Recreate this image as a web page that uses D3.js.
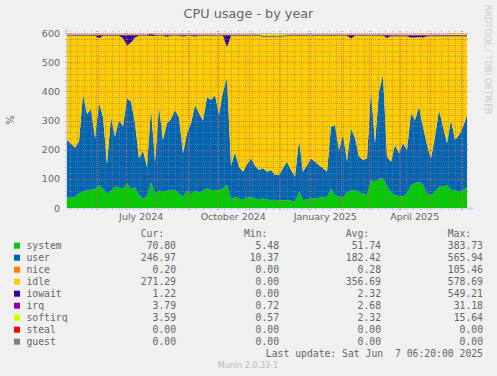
<!DOCTYPE html>
<html>
<head>
<meta charset="utf-8">
<script src="https://cdn.jsdelivr.net/npm/d3@7"></script>
<style>
  body { margin: 0; background: #f0f0f0; }
  svg text { font-family: "DejaVu Sans", sans-serif; fill: #666; }
  .mono { font-family: "DejaVu Sans Mono", monospace; white-space: pre; }
</style>
</head>
<body>
<script>
// one sample every 4 days, from 3 May 2024 to 7 Jun 2025
const system = [35,35,38,50,56,63,63,66,78,65, 50,58,75,70,65,85,65,70,45,33,
    40,88,51,60,55,60,63,62,50,39, 60,48,60,52,60,67,62,62,62,68,
    79,30,38,32,30,35,38,33,30,33, 30,27,28,27,27,27,25,22,56,27,
    30,33,33,35,37,39,67,45,40,35, 55,60,62,55,50,45,96,90,100,102,
    75,55,45,40,40,50,79,85,90,80, 50,45,55,73,73,79,63,62,55,62, 70.8];
const user = [198,185,169,178,334,259,276,174,282,247, 100,255,169,232,215,291,299,221,125,163,
    100,254,108,287,178,231,242,274,260,149, 197,242,293,273,240,313,308,325,258,332,
    366,115,152,109,94,115,132,112,100,103, 94,103,85,86,109,132,105,85,177,97,
    117,137,126,112,99,85,212,239,159,215, 105,213,178,121,115,125,309,132,299,354,
    101,104,171,148,182,149,246,217,257,199, 166,125,189,263,206,143,239,171,195,217, 246.97];
const nice = [0.3,0.3,0.3,0.3,0.3,0.3,0.3,0.3,0.3,0.3, 0.3,0.3,0.3,0.3,0.3,0.3,0.3,0.3,0.3,0.3,
    0.3,0.3,0.3,0.3,0.3,0.3,0.3,0.3,0.3,0.3, 0.3,0.3,0.3,0.3,0.3,0.3,0.3,0.3,0.3,0.3,
    0.3,0.3,0.3,0.3,0.3,0.3,0.3,0.3,0.3,0.3, 0.3,0.3,0.3,0.3,0.3,0.3,0.3,0.3,0.3,0.3,
    0.3,0.3,0.3,0.3,0.3,0.3,0.3,0.3,0.3,0.3, 0.3,0.3,0.3,0.3,0.3,0.3,0.3,0.3,0.3,0.3,
    0.3,0.3,0.3,0.3,0.3,0.3,0.3,0.3,0.3,0.3, 0.3,0.3,0.3,0.3,0.3,0.3,0.2,0.2,0.2,0.2, 0.2];
const idle = [357.5,370.5,383.5,362.5,200.5,268.5,251.5,350.5,222,278.5,
    440.5,277.5,346.5,288.5,302,181,203,293,420.5,394.5,
    450.5,248.5,430,243.5,357.5,296,285.5,254.5,280.5,400,
    333.5,300.5,235,265.5,290.5,210.5,220.5,203.5,270.5,190.5,
    107,445.5,400.5,449.5,466.5,440.5,420.5,445.5,460.5,451.5,
    463.5,457.5,474.5,474.5,451.5,431.5,460.5,483.5,357.5,466.5,
    443.5,420.5,431.5,443.5,454.5,466.5,311.5,306.5,391.5,340.5,
    430.5,308,350.5,414.5,425.5,420.5,185.5,368.5,191.5,134.5,
    407,429.5,372.5,400.5,366.5,389.5,259,282,239,305,
    372.5,418.5,344.5,252.5,309.5,366.5,286.5,355.5,338.5,309.5, 271.29];
const iowait = [1.5,1.5,1.5,1.5,1.5,1.5,1.5,1.5,10,1.5, 1.5,1.5,1.5,1.5,10,35,25,8,1.5,1.5,
    1.5,4,3,1.5,1.5,5,1.5,1.5,1.5,4, 1.5,1.5,4,1.5,1.5,1.5,1.5,1.5,1.5,1.5,
    40,1.5,1.5,1.5,1.5,1.5,1.5,1.5,1.5,1.5, 1.5,1.5,1.5,1.5,1.5,1.5,1.5,1.5,1.5,1.5,
    1.5,1.5,1.5,1.5,1.5,1.5,1.5,1.5,1.5,1.5, 1.5,11,1.5,1.5,1.5,1.5,1.5,1.5,1.5,1.5,
    9,1.5,1.5,1.5,1.5,1.5,6,6,4,6, 1.5,1.5,1.5,1.5,1.5,1.5,2,2,2,2, 1.22];
const irq = [2.4,2.4,2.4,2.4,2.4,2.4,2.4,2.4,2.4,2.4, 2.4,2.4,2.4,2.4,2.4,2.4,2.4,2.4,2.4,2.4,
    2.4,2.4,2.4,2.4,2.4,2.4,2.4,2.4,2.4,2.4, 2.4,2.4,2.4,2.4,2.4,2.4,2.4,2.4,2.4,2.4,
    2.4,2.4,2.4,2.4,2.4,2.4,2.4,2.4,2.4,2.4, 2.4,2.4,2.4,2.4,2.4,2.4,2.4,2.4,2.4,2.4,
    2.4,2.4,2.4,2.4,2.4,2.4,2.4,2.4,2.4,2.4, 2.4,2.4,2.4,2.4,2.4,2.4,2.4,2.4,2.4,2.4,
    2.4,3.7,3.7,3.7,3.7,3.7,3.7,3.7,3.7,3.7, 3.7,3.7,3.7,3.7,3.7,3.7,3.7,3.7,3.7,3.7, 3.79];
const softirq = [2,2,2,2,2,2,2,2,2,2, 2,2,2,2,2,2,2,2,2,2, 2,2,2,2,2,2,2,2,2,2,
    2,2,2,2,2,2,2,2,2,2, 2,2,2,2,2,2,2,2,2,5, 5,5,5,5,5,2,2,2,2,2,
    2,2,2,2,2,2,2,2,2,2, 2,2,2,2,2,2,2,2,2,2, 2,2,2,2,2,2,2,2,2,2,
    2,2,2,2,2,2,3.5,3.5,3.5,3.5, 3.59];
const steal = [0,0,0,0,0,0,0,0,0,0, 0,0,0,0,0,0,0,0,0,0, 0,0,0,0,0,0,0,0,0,0, 0,0,0,0,0,0,0,0,0,0,
    0,0,0,0,0,0,0,0,0,0, 0,0,0,0,0,0,0,0,0,0, 0,0,0,0,0,0,0,0,0,0, 0,0,0,0,0,0,0,0,0,0,
    0,0,0,0,0,0,0,0,0,0, 0,0,0,0,0,0,0,0,0,0, 0];
const guest = [0,0,0,0,0,0,0,0,0,0, 0,0,0,0,0,0,0,0,0,0, 0,0,0,0,0,0,0,0,0,0, 0,0,0,0,0,0,0,0,0,0,
    0,0,0,0,0,0,0,0,0,0, 0,0,0,0,0,0,0,0,0,0, 0,0,0,0,0,0,0,0,0,0, 0,0,0,0,0,0,0,0,0,0,
    0,0,0,0,0,0,0,0,0,0, 0,0,0,0,0,0,0,0,0,0, 0];

const seriesNames = ['system', 'user', 'nice', 'idle', 'iowait', 'irq', 'softirq', 'steal', 'guest'];
const seriesColors = ['#00CC00', '#0066B3', '#FF8000', '#FFCC00', '#330099', '#990099', '#CCFF00', '#FF0000', '#808080'];
const seriesValues = [system, user, nice, idle, iowait, irq, softirq, steal, guest];

const curValues = ['70.80', '246.97', '0.20', '271.29', '1.22', '3.79', '3.59', '0.00', '0.00'];
const minValues = ['5.48', '10.37', '0.00', '0.00', '0.00', '0.72', '0.57', '0.00', '0.00'];
const avgValues = ['51.74', '182.42', '0.28', '356.69', '2.32', '2.68', '2.32', '0.00', '0.00'];
const maxValues = ['383.73', '565.94', '105.46', '578.69', '549.21', '31.18', '15.64', '0.00', '0.00'];

const yTicks = [0, 100, 200, 300, 400, 500, 600];
const startTime = new Date(Date.UTC(2024, 4, 3, 6, 20));
const endTime = new Date(Date.UTC(2025, 5, 7, 6, 20));
const stepDays = 4;

const width = 497;
const height = 376;
const plot = {left: 67, right: 467, top: 33, bottom: 208};

const svg = d3.select('body')
    .append('svg')
    .attr('width', width)
    .attr('height', height);

const x = d3.scaleUtc().domain([startTime, endTime]).range([plot.left, plot.right]);
const y = d3.scaleLinear().domain([0, 600]).range([plot.bottom, plot.top]);

const rows = system.map((d, i) =>
{
    const row = {time: d3.utcDay.offset(startTime, i * stepDays)};
    seriesNames.forEach((name, k) => { row[name] = seriesValues[k][i]; });
    return row;
});

const stacked = d3.stack().keys(seriesNames)(rows);

const area = d3.area()
    .x(d => x(d.data.time))
    .y0(d => y(d[0]))
    .y1(d => y(d[1]));

svg.append('g')
    .selectAll('path')
    .data(stacked)
    .enter()
    .append('path')
    .attr('fill', (d, i) => seriesColors[i])
    .attr('d', area);

// grid sits on top of the areas, like rrdtool draws it
const grid = svg.append('g').attr('shape-rendering', 'crispEdges');
const minorColor = 'rgba(130,130,130,0.55)';
const majorColor = 'rgba(235,90,90,0.75)';

const minorY = d3.range(20, 600, 20).filter(v => v % 100 !== 0);
grid.selectAll('line.hmin')
    .data(minorY)
    .enter()
    .append('line')
    .attr('x1', plot.left - 2).attr('x2', plot.right + 2)
    .attr('y1', d => Math.round(y(d)) + 0.5).attr('y2', d => Math.round(y(d)) + 0.5)
    .attr('stroke', minorColor)
    .attr('stroke-dasharray', '1,1');

const weeks = d3.utcMonday.range(startTime, endTime)
    .filter(d => d.getUTCDate() !== 1);
grid.selectAll('line.vmin')
    .data(weeks)
    .enter()
    .append('line')
    .attr('x1', d => Math.round(x(d)) + 0.5).attr('x2', d => Math.round(x(d)) + 0.5)
    .attr('y1', plot.top - 2).attr('y2', plot.bottom + 2)
    .attr('stroke', minorColor)
    .attr('stroke-dasharray', '1,1');

grid.selectAll('line.hmaj')
    .data(yTicks.slice(1))
    .enter()
    .append('line')
    .attr('x1', plot.left - 2).attr('x2', plot.right + 2)
    .attr('y1', d => Math.round(y(d)) + 0.5).attr('y2', d => Math.round(y(d)) + 0.5)
    .attr('stroke', majorColor)
    .attr('stroke-dasharray', '1,1');

const months = d3.utcMonth.range(startTime, endTime);
grid.selectAll('line.vmaj')
    .data(months)
    .enter()
    .append('line')
    .attr('x1', d => Math.round(x(d)) + 0.5).attr('x2', d => Math.round(x(d)) + 0.5)
    .attr('y1', plot.top - 2).attr('y2', plot.bottom + 3)
    .attr('stroke', majorColor)
    .attr('stroke-dasharray', '1,1');

// axes with arrows
const axisColor = '#CFD6F8';
svg.append('line')
    .attr('x1', plot.left).attr('x2', plot.right + 4)
    .attr('y1', plot.bottom + 0.5).attr('y2', plot.bottom + 0.5)
    .attr('stroke', axisColor);
svg.append('path')
    .attr('d', `M${plot.right + 2},${plot.bottom - 2} L${plot.right + 7},${plot.bottom + 0.5} L${plot.right + 2},${plot.bottom + 3} Z`)
    .attr('fill', axisColor);
svg.append('line')
    .attr('x1', plot.left - 0.5).attr('x2', plot.left - 0.5)
    .attr('y1', plot.bottom).attr('y2', plot.top - 4)
    .attr('stroke', axisColor);
svg.append('path')
    .attr('d', `M${plot.left - 3},${plot.top - 1} L${plot.left - 0.5},${plot.top - 6} L${plot.left + 2},${plot.top - 1} Z`)
    .attr('fill', axisColor);

// y tick labels
svg.append('g')
    .selectAll('text')
    .data(yTicks)
    .enter()
    .append('text')
    .attr('x', 60)
    .attr('y', d => y(d) + 3.5)
    .attr('text-anchor', 'end')
    .style('font-size', '9.5px')
    .text(d => d);

// x labels: every third month, centred on the month
const labelMonths = months.filter(d => d.getUTCMonth() % 3 === 0);
const monthFormat = d3.utcFormat('%B %Y');
svg.append('g')
    .selectAll('text')
    .data(labelMonths)
    .enter()
    .append('text')
    .attr('x', d => (x(d) + x(d3.utcMonth.offset(d, 1))) / 2)
    .attr('y', 220)
    .attr('text-anchor', 'middle')
    .style('font-size', '9.5px')
    .text(d => monthFormat(d));

svg.append('text')
    .attr('x', width / 2)
    .attr('y', 18)
    .attr('text-anchor', 'middle')
    .style('font-size', '12.8px')
    .text('CPU usage - by year');

svg.append('text')
    .attr('transform', 'translate(14,120) rotate(-90)')
    .attr('text-anchor', 'middle')
    .style('font-size', '10px')
    .text('%');

svg.append('text')
    .attr('transform', 'translate(485,5) rotate(90)')
    .style('font-size', '8.5px')
    .style('fill', '#cccccc')
    .text('RRDTOOL / TOBI OETIKER');

// legend
const legend = svg.append('g').attr('class', 'legend');
const legendTop = 245.7;
const rowStep = 12;
const headers = [['Cur:', 140.7], ['Min:', 244], ['Avg:', 345.7], ['Max:', 447.7]];

legend.selectAll('text.head')
    .data(headers)
    .enter()
    .append('text')
    .attr('class', 'mono')
    .attr('x', d => d[1])
    .attr('y', legendTop - rowStep + 3.5)
    .style('font-size', '9.75px')
    .text(d => d[0]);

const legendRows = legend.selectAll('g.row')
    .data(seriesNames)
    .enter()
    .append('g')
    .attr('transform', (d, i) => `translate(0,${legendTop + i * rowStep})`);

legendRows.append('rect')
    .attr('x', 14).attr('y', -3)
    .attr('width', 6).attr('height', 6)
    .attr('fill', (d, i) => seriesColors[i]);

legendRows.append('text')
    .attr('class', 'mono')
    .attr('x', 26.5).attr('y', 3.5)
    .style('font-size', '9.75px')
    .text(d => d);

const columns = [[curValues, 176], [minValues, 279], [avgValues, 381], [maxValues, 483]];
columns.forEach(([values, right]) =>
{
    legendRows.append('text')
        .attr('class', 'mono')
        .attr('x', right).attr('y', 3.5)
        .attr('text-anchor', 'end')
        .style('font-size', '9.75px')
        .text((d, i) => values[i]);
});

svg.append('text')
    .attr('class', 'mono')
    .attr('x', 483)
    .attr('y', legendTop + 9 * rowStep + 3.5)
    .attr('text-anchor', 'end')
    .style('font-size', '9.75px')
    .text('Last update: Sat Jun  7 06:20:00 2025');

svg.append('text')
    .attr('x', 248)
    .attr('y', 368)
    .attr('text-anchor', 'middle')
    .style('font-size', '8px')
    .style('fill', '#bbbbbb')
    .text('Munin 2.0.33-1');
</script>
</body>
</html>
